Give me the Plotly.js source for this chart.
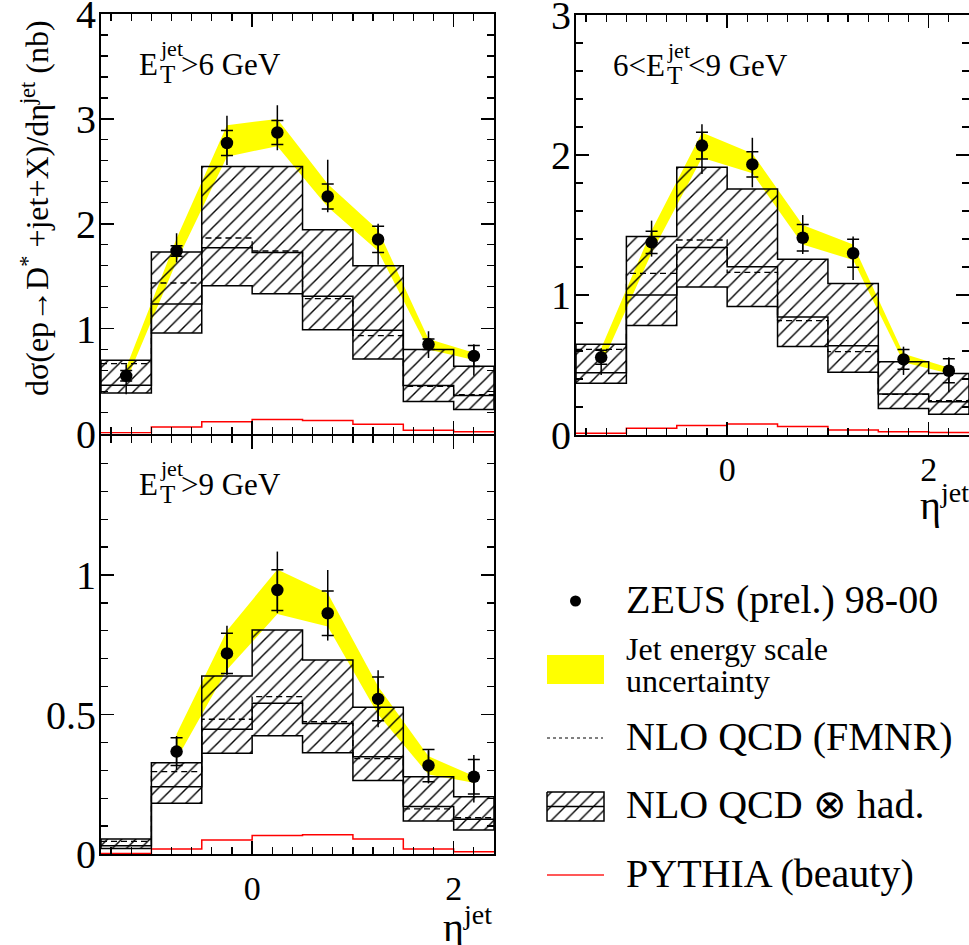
<!DOCTYPE html>
<html>
<head>
<meta charset="utf-8">
<script src="https://cdn.plot.ly/plotly-3.0.1.min.js"></script>
<style>html,body{margin:0;padding:0;background:#fff;}#plot{width:969px;height:945px;}</style>
</head>
<body>
<div id="plot"></div>
<script>
// ---------------- data ----------------
const binEdges = [-1.5, -1, -0.5, 0, 0.5, 1, 1.5, 2, 2.4];
const etaPoints = [-1.25, -0.75, -0.25, 0.25, 0.75, 1.25, 1.75, 2.2];

// Panel A : E_T^jet > 6 GeV
const zeusA   = [0.55, 1.74, 2.77, 2.87, 2.26, 1.85, 0.85, 0.74];
const statA   = [0.05, 0.05, 0.12, 0.115, 0.12, 0.125, 0.05, 0.10];
const totUpA  = [0.11, 0.17, 0.26, 0.26, 0.35, 0.15, 0.125, 0.11];
const totDnA  = [0.175, 0.11, 0.21, 0.17, 0.15, 0.24, 0.13, 0.19];
const jesLoA  = [0.50, 1.64, 2.64, 2.74, 2.16, 1.74, 0.80, 0.70];
const jesHiA  = [0.63, 1.86, 2.94, 3.00, 2.38, 1.94, 0.90, 0.77];
const nloHiA  = [0.698, 1.73, 2.546, 2.546, 1.943, 1.60, 0.80, 0.641];
const nloLoA  = [0.387, 0.959, 1.41, 1.333, 0.99, 0.711, 0.305, 0.229];
const nloHadA = [0.46, 1.235, 1.771, 1.727, 1.308, 0.984, 0.457, 0.362];
const fmnrA   = [0.667, 1.435, 1.864, 1.74, 1.286, 0.933, 0.45, 0.37];
const pythiaA = [0.007, 0.063, 0.111, 0.133, 0.124, 0.089, 0.032, 0.016];

// Panel B : 6 < E_T^jet < 9 GeV
const zeusB   = [0.555, 1.376, 2.067, 1.933, 1.409, 1.298, 0.54, 0.459];
const statB   = [0.05, 0.08, 0.095, 0.09, 0.095, 0.10, 0.07, 0.085];
const totUpB  = [0.064, 0.155, 0.152, 0.19, 0.162, 0.119, 0.091, 0.096];
const totDnB  = [0.126, 0.102, 0.203, 0.164, 0.116, 0.191, 0.111, 0.154];
const jesLoB  = [0.50, 1.30, 1.98, 1.87, 1.36, 1.25, 0.52, 0.44];
const jesHiB  = [0.62, 1.46, 2.16, 2.01, 1.50, 1.36, 0.58, 0.48];
const nloHiB  = [0.648, 1.417, 1.912, 1.757, 1.255, 1.083, 0.524, 0.44];
const nloLoB  = [0.369, 0.783, 1.057, 0.917, 0.633, 0.448, 0.19, 0.148];
const nloHadB = [0.445, 1.0, 1.34, 1.202, 0.843, 0.638, 0.293, 0.238];
const fmnrB   = [0.612, 1.155, 1.393, 1.162, 0.817, 0.595, 0.29, 0.245];
const pythiaB = [0.012, 0.048, 0.067, 0.079, 0.06, 0.036, 0.024, 0.017];

// Panel C : E_T^jet > 9 GeV (no measurement in first bin)
const zeusC   = [null, 0.367, 0.719, 0.946, 0.863, 0.556, 0.317, 0.277];
const statC   = [null, 0.05, 0.072, 0.073, 0.08, 0.078, 0.058, 0.062];
const totUpC  = [null, 0.056, 0.099, 0.138, 0.155, 0.103, 0.052, 0.078];
const totDnC  = [null, 0.066, 0.077, 0.083, 0.098, 0.102, 0.064, 0.092];
const jesLoC  = [null, 0.34, 0.66, 0.86, 0.815, 0.50, 0.285, 0.255];
const jesHiC  = [null, 0.43, 0.80, 1.02, 0.935, 0.60, 0.35, 0.28];
const nloHiC  = [0.054, 0.327, 0.638, 0.803, 0.695, 0.526, 0.277, 0.205];
const nloLoC  = [0.02, 0.182, 0.361, 0.424, 0.363, 0.263, 0.118, 0.086];
const nloHadC = [0.03, 0.241, 0.447, 0.54, 0.468, 0.349, 0.17, 0.125];
const fmnrC   = [0.045, 0.295, 0.483, 0.564, 0.474, 0.342, 0.162, 0.13];
const pythiaC = [0.002, 0.018, 0.05, 0.066, 0.069, 0.054, 0.018, 0.008];

// ---------------- helpers ----------------
const FONT = 'Liberation Serif';
const W = 969, H = 945;
const px = v => v / W;
const py = v => 1 - v / H;

function stepY(vals) { return vals.concat([vals[vals.length - 1]]); }
function keep(arr, ref) { return arr.filter((v, i) => ref[i] !== null); }

const HATCH = {shape: '/', size: 10, solidity: 0.14, fgcolor: '#000', bgcolor: 'rgba(0,0,0,0)'};

function panelTraces(xa, ya, d) {
  const traces = [];
  const xs = keep(etaPoints, d.zeus), hi = keep(d.jesHi, d.zeus), lo = keep(d.jesLo, d.zeus);
  traces.push({
    x: xs.concat(xs.slice().reverse()),
    y: hi.concat(lo.slice().reverse()),
    xaxis: xa, yaxis: ya, type: 'scatter', mode: 'lines',
    fill: 'toself', fillcolor: '#ffff00', line: {width: 0, color: '#ffff00'},
    hoverinfo: 'skip'
  });
  const bx = [], by = [];
  for (let i = 0; i < d.nloHi.length; i++) { bx.push(binEdges[i], binEdges[i + 1]); by.push(d.nloHi[i], d.nloHi[i]); }
  for (let i = d.nloLo.length - 1; i >= 0; i--) { bx.push(binEdges[i + 1], binEdges[i]); by.push(d.nloLo[i], d.nloLo[i]); }
  bx.push(bx[0]); by.push(by[0]);
  traces.push({
    x: bx, y: by, xaxis: xa, yaxis: ya, type: 'scatter', mode: 'lines',
    fill: 'toself', fillcolor: 'rgba(0,0,0,0)', fillpattern: HATCH,
    line: {color: '#000', width: 1.5}, hoverinfo: 'skip'
  });
  traces.push({x: binEdges, y: stepY(d.nloHad), xaxis: xa, yaxis: ya, type: 'scatter', mode: 'lines',
    line: {shape: 'hv', color: '#000', width: 1.5}});
  traces.push({x: binEdges, y: stepY(d.fmnr), xaxis: xa, yaxis: ya, type: 'scatter', mode: 'lines',
    line: {shape: 'hv', color: '#000', width: 1.3, dash: '6px,4px'}});
  traces.push({x: binEdges, y: stepY(d.pythia), xaxis: xa, yaxis: ya, type: 'scatter', mode: 'lines',
    line: {shape: 'hv', color: '#ff0000', width: 1.5}});
  traces.push({x: xs, y: keep(d.zeus, d.zeus), xaxis: xa, yaxis: ya, type: 'scatter', mode: 'markers',
    marker: {size: 1, color: 'rgba(0,0,0,0)'},
    error_y: {type: 'data', array: keep(d.stat, d.zeus), visible: true, color: '#000', thickness: 1.5, width: 6}});
  traces.push({x: xs, y: keep(d.zeus, d.zeus), xaxis: xa, yaxis: ya, type: 'scatter', mode: 'markers',
    marker: {size: 12.5, color: '#000'},
    error_y: {type: 'data', symmetric: false, array: keep(d.totUp, d.zeus), arrayminus: keep(d.totDn, d.zeus),
      visible: true, color: '#000', thickness: 1.5, width: 0}});
  return traces;
}

const data = [].concat(
  panelTraces('x', 'y', {zeus: zeusA, stat: statA, totUp: totUpA, totDn: totDnA, jesLo: jesLoA, jesHi: jesHiA,
    nloHi: nloHiA, nloLo: nloLoA, nloHad: nloHadA, fmnr: fmnrA, pythia: pythiaA}),
  panelTraces('x2', 'y2', {zeus: zeusB, stat: statB, totUp: totUpB, totDn: totDnB, jesLo: jesLoB, jesHi: jesHiB,
    nloHi: nloHiB, nloLo: nloLoB, nloHad: nloHadB, fmnr: fmnrB, pythia: pythiaB}),
  panelTraces('x3', 'y3', {zeus: zeusC, stat: statC, totUp: totUpC, totDn: totDnC, jesLo: jesLoC, jesHi: jesHiC,
    nloHi: nloHiC, nloLo: nloLoC, nloHad: nloHadC, fmnr: fmnrC, pythia: pythiaC})
);

// ---------------- legend keys (pixel frame overlay axis) ----------------
data.push({x: [575.5], y: [601], xaxis: 'x4', yaxis: 'y4', type: 'scatter', mode: 'markers',
  marker: {size: 11, color: '#000'}});
data.push({x: [547, 604, 604, 547, 547], y: [655, 655, 684, 684, 655], xaxis: 'x4', yaxis: 'y4', type: 'scatter',
  mode: 'lines', fill: 'toself', fillcolor: '#ffff00', line: {width: 0, color: '#ffff00'}});
data.push({x: [547, 603], y: [738, 738], xaxis: 'x4', yaxis: 'y4', type: 'scatter', mode: 'lines',
  line: {color: '#000', width: 1, dash: 'dot'}});
data.push({x: [547, 604, 604, 547, 547], y: [792, 792, 821, 821, 792], xaxis: 'x4', yaxis: 'y4', type: 'scatter',
  mode: 'lines', fill: 'toself', fillcolor: 'rgba(0,0,0,0)', fillpattern: HATCH,
  line: {color: '#000', width: 1.5}});
data.push({x: [547, 604], y: [806.5, 806.5], xaxis: 'x4', yaxis: 'y4', type: 'scatter', mode: 'lines',
  line: {color: '#000', width: 1.5}});
data.push({x: [547, 604], y: [875, 875], xaxis: 'x4', yaxis: 'y4', type: 'scatter', mode: 'lines',
  line: {color: '#ff2020', width: 1.5}});

// ---------------- axes ----------------
function xAxis(domain, anchor, labels) {
  return {
    domain: domain, anchor: anchor, range: [-1.5, 2.4], tickmode: 'linear', tick0: 0, dtick: 2,
    showline: true, linecolor: '#000', linewidth: 2, mirror: 'allticks',
    ticks: 'inside', ticklen: 13, tickwidth: 1.5, tickcolor: '#000',
    minor: {tickmode: 'linear', tick0: 0, dtick: 0.2, ticks: 'inside', ticklen: 7, tickwidth: 1.2, tickcolor: '#000'},
    showgrid: false, zeroline: false, showticklabels: labels, ticklabeloverflow: 'allow',
    tickfont: {family: FONT, size: 34, color: '#000'}, ticklabelstandoff: 3, fixedrange: true
  };
}
function yAxis(domain, anchor, range, tickvals, minorDtick) {
  return {
    domain: domain, anchor: anchor, range: range, tickmode: 'array', tickvals: tickvals,
    ticktext: tickvals.map(v => String(v)),
    showline: true, linecolor: '#000', linewidth: 2, mirror: 'allticks',
    ticks: 'inside', ticklen: 13, tickwidth: 1.5, tickcolor: '#000',
    minor: {tickmode: 'linear', tick0: 0, dtick: minorDtick, ticks: 'inside', ticklen: 7, tickwidth: 1.2, tickcolor: '#000'},
    showgrid: false, zeroline: false, ticklabeloverflow: 'allow',
    tickfont: {family: FONT, size: 40, color: '#000'}, ticklabelstandoff: -5, fixedrange: true
  };
}

const layout = {
  width: W, height: H, margin: {l: 0, r: 0, t: 0, b: 0}, showlegend: false,
  font: {family: FONT, color: '#000'},
  paper_bgcolor: '#fff', plot_bgcolor: 'rgba(0,0,0,0)',
  xaxis: xAxis([px(101), px(494)], 'y', false),
  yaxis: yAxis([py(433.5), py(14)], 'x', [0, 4], [0, 1, 2, 3, 4], 0.2),
  xaxis2: xAxis([px(576), 1], 'y2', true),
  yaxis2: yAxis([py(435), py(15)], 'x2', [0, 3], [0, 1, 2, 3], 0.2),
  xaxis3: xAxis([px(101), px(494)], 'y3', true),
  yaxis3: yAxis([py(854), py(435.5)], 'x3', [0, 1.5], [0, 0.5, 1], 0.1),
  xaxis4: {domain: [0, 1], anchor: 'y4', range: [0, W], visible: false, fixedrange: true},
  yaxis4: {domain: [0, 1], anchor: 'x4', range: [H, 0], visible: false, fixedrange: true},
  annotations: []
};

function ann(text, x, y, size, opts) {
  return Object.assign({text: text, xref: 'paper', yref: 'paper', x: px(x), y: py(y), showarrow: false,
    xanchor: 'left', yanchor: 'middle', font: {family: FONT, size: size, color: '#000'}}, opts || {});
}

function etLabel(prefix, suffix, x0, yBase) {
  const out = [];
  let xE = x0;
  if (prefix) { out.push(ann(prefix, x0, yBase - 10.5, 31)); xE = x0 + 33; }
  out.push(ann('E', xE, yBase - 10.5, 31));
  out.push(ann('jet', xE + 21, yBase - 26, 22));
  out.push(ann('T', xE + 21, yBase - 0.5, 25));
  out.push(ann(suffix, xE + 42, yBase - 10.5, 31));
  return out;
}
layout.annotations.push(...etLabel('', '>6 GeV', 137, 75));
layout.annotations.push(...etLabel('6<', '<9 GeV', 611, 76));
layout.annotations.push(...etLabel('', '>9 GeV', 137, 495));

layout.annotations.push(ann('dσ(ep→D<sup>*</sup> +jet+X)/dη<sup>jet</sup> (nb)', 35, 208, 32,
  {xanchor: 'center', textangle: -90}));
layout.annotations.push(ann('η<sup>jet</sup>', 441, 924, 40));
layout.annotations.push(ann('η<sup>jet</sup>', 918, 502, 40));

layout.annotations.push(ann('ZEUS (prel.) 98-00', 624, 599.5, 40));
layout.annotations.push(ann('Jet energy scale', 624, 649, 32));
layout.annotations.push(ann('uncertainty', 624, 681, 32));
layout.annotations.push(ann('NLO QCD (FMNR)', 624, 736.5, 40));
layout.annotations.push(ann('NLO QCD ⊗ had.', 624, 804.5, 40));
layout.annotations.push(ann('PYTHIA (beauty)', 624, 873.5, 40));

Plotly.newPlot('plot', data, layout, {staticPlot: true, displayModeBar: false});
</script>
</body>
</html>
